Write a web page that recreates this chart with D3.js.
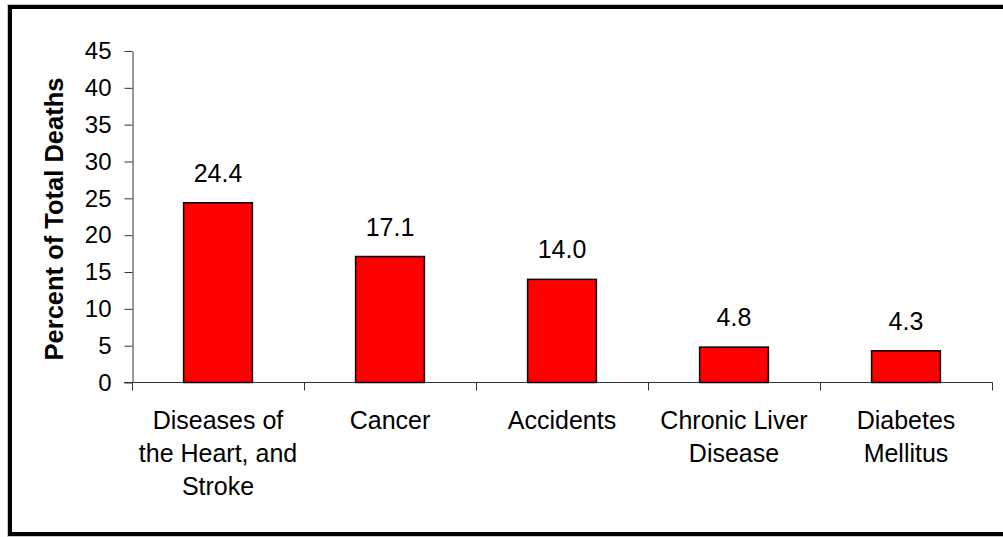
<!DOCTYPE html>
<html>
<head>
<meta charset="utf-8">
<script src="https://cdn.jsdelivr.net/npm/d3@7"></script>
<style>
  body { margin: 0; background: #fff; }
  text { font-family: "Liberation Sans", Arial, sans-serif; fill: #000; }
</style>
</head>
<body>
<svg width="1003" height="537"></svg>
<script>
const categories = ["Diseases of the Heart, and Stroke", "Cancer", "Accidents", "Chronic Liver Disease", "Diabetes Mellitus"];
const labelLines = [["Diseases of", "the Heart, and", "Stroke"], ["Cancer"], ["Accidents"], ["Chronic Liver", "Disease"], ["Diabetes", "Mellitus"]];
const values = [24.4, 17.1, 14.0, 4.8, 4.3];
const yTicks = [0, 5, 10, 15, 20, 25, 30, 35, 40, 45];

const svg = d3.select("svg");

// outer frame
svg.append("rect")
  .attr("x", 7.5).attr("y", 4.5).attr("width", 1010).attr("height", 532)
  .attr("fill", "none").attr("stroke", "#c8c8c8").attr("stroke-width", 1);
svg.append("rect")
  .attr("x", 10).attr("y", 7).attr("width", 1005).attr("height", 527)
  .attr("fill", "none").attr("stroke", "#000").attr("stroke-width", 4);

const x = d3.scaleBand()
  .domain(categories)
  .range([132, 992])
  .paddingInner(0.6)
  .paddingOuter(0.3);

const y = d3.scaleLinear().domain([0, 45]).range([382.5, 51]);

// y axis
const yAxis = svg.append("g")
  .attr("transform", "translate(132.5,0)")
  .call(d3.axisLeft(y).tickValues(yTicks).tickSize(8).tickPadding(13).tickSizeOuter(0));
yAxis.select(".domain").attr("stroke", "#333");
yAxis.selectAll(".tick line").attr("stroke", "#333");
yAxis.selectAll(".tick text")
  .attr("font-size", 24)
  .attr("font-family", null);

// x axis line and tick marks between categories
const base = y(0);
svg.append("line")
  .attr("x1", 124).attr("x2", 992.5)
  .attr("y1", base).attr("y2", base)
  .attr("stroke", "#333");
const bounds = d3.range(categories.length + 1).map((i) => x.range()[0] + i * x.step());
svg.append("g").selectAll("line")
  .data(bounds)
  .join("line")
  .attr("x1", (d) => Math.round(d) + 0.5).attr("x2", (d) => Math.round(d) + 0.5)
  .attr("y1", base).attr("y2", base + 8)
  .attr("stroke", "#333");

// bars
svg.append("g").selectAll("rect")
  .data(values)
  .join("rect")
  .attr("x", (d, i) => x(categories[i]))
  .attr("y", (d) => y(d))
  .attr("width", x.bandwidth())
  .attr("height", (d) => y(0) - y(d))
  .attr("fill", "#ff0000")
  .attr("stroke", "#000")
  .attr("stroke-width", 1.5);

// value labels
svg.append("g").selectAll("text")
  .data(values)
  .join("text")
  .attr("x", (d, i) => x(categories[i]) + x.bandwidth() / 2)
  .attr("y", (d) => y(d) - 21)
  .attr("text-anchor", "middle")
  .attr("font-size", 25)
  .text((d) => d.toFixed(1));

// category labels
const cat = svg.append("g").selectAll("g")
  .data(labelLines)
  .join("g")
  .attr("transform", (d, i) => `translate(${x(categories[i]) + x.bandwidth() / 2},0)`);
cat.selectAll("text")
  .data((d) => d)
  .join("text")
  .attr("y", (d, j) => base + 46 + j * 33)
  .attr("text-anchor", "middle")
  .attr("font-size", 25)
  .text((d) => d);

// y axis title
svg.append("text")
  .attr("transform", "translate(63,219) rotate(-90)")
  .attr("text-anchor", "middle")
  .attr("font-size", 25.5)
  .attr("font-weight", "bold")
  .text("Percent of Total Deaths");
</script>
</body>
</html>
